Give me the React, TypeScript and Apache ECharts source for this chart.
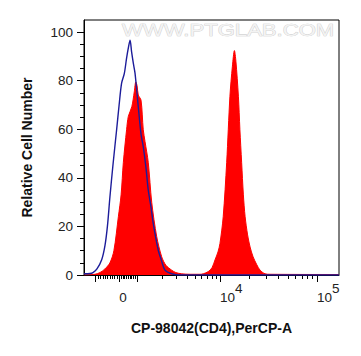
import React, { useEffect, useRef } from "react";
import * as echarts from "echarts";

// Display channel scale (0..1024) of the biexponential x axis
const X_MIN = 0;
const X_MAX = 1024;
const Y_MIN = 0;
const Y_MAX = 105;

// Red (CD4 stained) histogram
const redX = [0, 44, 64, 84, 104, 120, 138, 149, 158, 171, 178, 192, 202, 208, 213, 218, 229, 238, 245, 258, 272, 292, 312, 329, 352, 369, 392, 426, 466, 479, 499, 514, 526, 538, 546, 559, 573, 586, 596, 604, 610, 620, 626, 633, 640, 647, 657, 667, 679, 694, 707, 727, 747, 1024];
const redY = [0, 0.3, 1, 2.5, 5, 10, 24, 33, 46.4, 59.8, 65.3, 69.3, 75.5, 79.5, 78, 74.1, 72, 59.8, 55, 46.4, 29.9, 15.8, 7.5, 4, 2, 1, 0.5, 0.3, 0.3, 0.5, 1.4, 3, 6.2, 9.5, 13, 24, 46.4, 73.6, 86, 92.4, 88, 73.6, 60, 46.4, 33, 24, 16.5, 11.5, 7.5, 4.2, 2, 0.5, 0.3, 0.2];

// Blue (isotype control) histogram
const blueX = [0, 24, 36, 52, 71, 84, 94, 104, 116, 131, 141, 151, 162, 171, 179, 185, 191, 198, 205, 218, 229, 238, 249, 258, 269, 278, 298, 311, 325, 352, 386, 1024];
const blueY = [0.5, 0.6, 1, 2.5, 6.3, 12, 20, 32, 45, 59.8, 70, 79, 83, 89.3, 94, 96.7, 92, 87.2, 83, 69.3, 58, 52.8, 44, 35, 28, 21.3, 10.3, 6, 2, 0.5, 0, 0];

// Axis ticks / labels (channel positions)
const xMajorTicks = [47, 142, 213, 546, 936]; // -10^3, 0, 10^3, 10^4, 10^5
const xLabelValues = [142, 546, 936];
const xLabelTexts = ["0", "10^4", "10^5"];
const yMajorTicks = [0, 20, 40, 60, 80, 100];
const yMinorTicks = [5, 10, 15, 25, 30, 35, 45, 50, 55, 65, 70, 75, 85, 90, 95, 100];

const NEG_K = 47, ZERO = 142, K3 = 213, K4 = 546, K5 = 936;
function buildMinorX(): number[] {
  const out: number[] = [];
  for (let i = 1; i <= 9; i++) out.push(NEG_K + ((ZERO - NEG_K) * i) / 10);
  for (let i = 1; i <= 9; i++) out.push(ZERO + ((K3 - ZERO) * i) / 10);
  for (let k = 2; k <= 9; k++) out.push(K3 + Math.log10(k) * (K4 - K3));
  for (let k = 2; k <= 9; k++) out.push(K4 + Math.log10(k) * (K5 - K4));
  return out;
}

const FONT = "'Liberation Sans', Arial, sans-serif";

export default function App() {
  const ref = useRef<HTMLDivElement>(null);
  useEffect(() => {
    if (!ref.current) return;
    const chart = echarts.init(ref.current, null, { renderer: "svg" });
    const toLabel = (v: number) => {
      let best = 0;
      for (let i = 0; i < xLabelValues.length; i++) {
        if (Math.abs(xLabelValues[i] - v) < Math.abs(xLabelValues[best] - v)) best = i;
      }
      const t = xLabelTexts[best];
      if (t.indexOf("^") >= 0) {
        const [b, s] = t.split("^");
        return `{b|${b}}{s|${s}}`;
      }
      return `{b|${t}}`;
    };
    chart.setOption({
      animation: false,
      backgroundColor: "#fff",
      textStyle: { fontFamily: FONT },
      grid: {
        left: 84,
        right: 22,
        top: 20,
        bottom: 81,
        show: true,
        borderColor: "#000",
        borderWidth: 1,
        containLabel: false,
        outerBoundsMode: "none",
      },
      graphic: [
        {
          type: "text",
          x: 122,
          y: 21,
          scaleX: 1.3,
          z: 0,
          silent: true,
          style: {
            text: "WWW.PTGLAB.COM",
            font: `17px ${FONT}`,
            fill: "#f3f3f3",
            stroke: "#c8c8c8",
            lineWidth: 0.7,
            textVerticalAlign: "top",
          },
        },
      ],
      xAxis: [
        {
          type: "value",
          min: X_MIN,
          max: X_MAX,
          position: "bottom",
          axisLine: { show: true, onZero: false, lineStyle: { color: "#000", width: 1 } },
          axisTick: { show: true, customValues: xMajorTicks, length: 7, lineStyle: { color: "#000", width: 1 } },
          axisLabel: {
            customValues: xLabelValues,
            formatter: (v: number) => toLabel(v),
            margin: 6,
            align: "left",
            color: "#222",
            rich: {
              b: { fontSize: 13.5, color: "#222", fontFamily: FONT, padding: [9, 0, 0, 0], verticalAlign: "bottom" },
              s: { fontSize: 13.5, color: "#222", fontFamily: FONT, verticalAlign: "top" },
            },
          },
          splitLine: { show: false },
          name: "CP-98042(CD4),PerCP-A",
          nameLocation: "middle",
          nameGap: 46,
          nameTextStyle: { fontWeight: "bold", fontSize: 14, color: "#111", fontFamily: FONT },
        },
        {
          type: "value",
          min: X_MIN,
          max: X_MAX,
          position: "bottom",
          axisLine: { show: false, onZero: false },
          axisTick: { show: true, customValues: buildMinorX(), length: 4, lineStyle: { color: "#000", width: 1 } },
          axisLabel: { show: false },
          splitLine: { show: false },
        },
      ],
      yAxis: [
        {
          type: "value",
          min: Y_MIN,
          max: Y_MAX,
          position: "left",
          axisLine: { show: true, onZero: false, lineStyle: { color: "#000", width: 1 } },
          axisTick: { show: true, customValues: yMajorTicks, length: 7, lineStyle: { color: "#000", width: 1 } },
          axisLabel: { customValues: yMajorTicks, margin: 11, color: "#222", fontSize: 13.5, fontFamily: FONT },
          splitLine: { show: false },
          name: "Relative Cell Number",
          nameLocation: "middle",
          nameGap: 50,
          nameTextStyle: { fontWeight: "bold", fontSize: 14, color: "#111", fontFamily: FONT },
        },
        {
          type: "value",
          min: Y_MIN,
          max: Y_MAX,
          position: "left",
          axisLine: { show: false, onZero: false },
          axisTick: { show: true, customValues: yMinorTicks, length: 4, lineStyle: { color: "#000", width: 1 } },
          axisLabel: { show: false },
          splitLine: { show: false },
        },
      ],
      series: [
        {
          type: "line",
          xAxisIndex: 0,
          yAxisIndex: 0,
          data: redX.map((x, i) => [x, redY[i]]),
          showSymbol: false,
          smooth: 0.3,
          lineStyle: { color: "#ff0000", width: 1 },
          areaStyle: { color: "#ff0000", opacity: 1 },
          z: 2,
        },
        {
          type: "line",
          xAxisIndex: 0,
          yAxisIndex: 0,
          data: blueX.map((x, i) => [x, blueY[i]]),
          showSymbol: false,
          smooth: 0.3,
          lineStyle: { color: "#1c1c9a", width: 1.4 },
          z: 3,
        },
      ],
    });
    return () => chart.dispose();
  }, []);
  return (
    <div
      ref={ref}
      style={{ position: "fixed", left: 0, top: 0, width: 361, height: 356, background: "#fff" }}
    />
  );
}
